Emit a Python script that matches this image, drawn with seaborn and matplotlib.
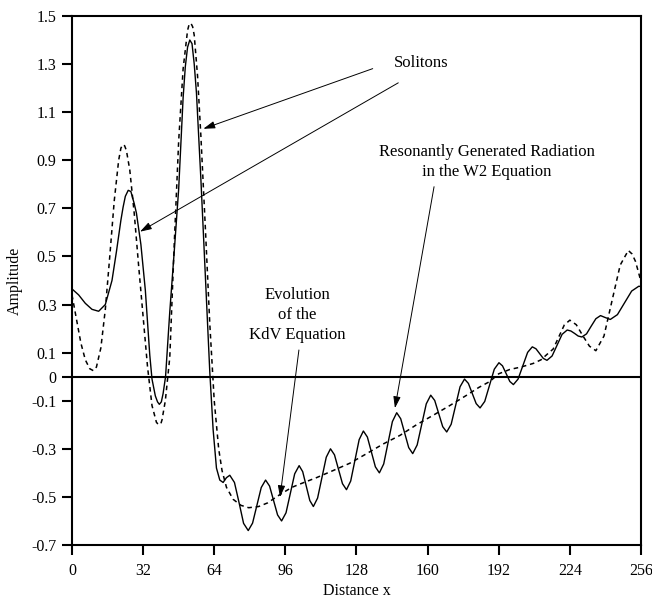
import numpy as np
import pandas as pd
import matplotlib
matplotlib.use("Agg")
import matplotlib.pyplot as plt
import seaborn as sns

sns.set_style("ticks")
plt.rcParams['font.family'] = ['Liberation Serif', 'DejaVu Serif']
plt.rcParams['text.color'] = 'black'
plt.rcParams['axes.labelcolor'] = 'black'
plt.rcParams['xtick.color'] = 'black'
plt.rcParams['ytick.color'] = 'black'

# ==========================================
# Data
# ==========================================
# W2 equation (solid line)
w2_x = [0, 3, 6, 9, 12, 15, 18, 20, 22, 23, 24, 25.3, 26.5, 28, 29, 31, 33, 35, 36, 37.5, 38.5,
        39.3, 40.2, 41, 42.1, 44, 46, 48, 50, 51, 52, 53, 54, 55, 56, 57, 58, 60, 62, 63.5,
        65, 66.5, 68, 69.5, 71,
        73.1, 75.2, 77.2, 79.3, 81.25, 83.2, 85.15, 87.1, 88.9, 90.7, 92.5, 94.3, 96.3, 98.25,
        100.2, 102.2, 103.8, 105.4, 107.0, 108.6, 110.5, 112.45, 114.4, 116.3, 118.1, 119.9,
        121.7, 123.5, 125.4, 127.3, 129.2, 131.1, 132.9, 134.7, 136.5, 138.3, 140.25, 142.2,
        144.15, 146.1, 147.9, 149.7, 151.5, 153.3, 155.3, 157.35, 159.4, 161.4, 163.2, 165.0,
        166.8, 168.6, 170.6, 172.6, 174.6, 176.6, 178.35, 180.1, 181.85, 183.6, 185.7, 187.85,
        190.0, 192.1, 193.7, 195.35, 197.0, 198.6, 200.7, 202.85, 205.0, 207.1, 208.75, 210.4,
        212.05, 213.7, 216.0, 218.25, 220.5, 222.8, 224.45, 226.1, 227.75, 229.4, 231.5, 233.6,
        235.7, 237.8, 239.9, 242.2, 245.4, 248.6, 251.8, 255, 256]
w2_y = [0.365, 0.34, 0.305, 0.28, 0.272, 0.30, 0.40, 0.52, 0.65, 0.705, 0.75, 0.775, 0.77, 0.72,
        0.68, 0.55, 0.36, 0.09, -0.01, -0.08, -0.105,
        -0.115, -0.105, -0.07, 0.0, 0.27, 0.52, 0.78, 1.16, 1.29, 1.37, 1.40, 1.385, 1.30, 1.18,
        1.0, 0.82, 0.42, 0.02, -0.22,
        -0.38, -0.43, -0.44, -0.42, -0.41,
        -0.44, -0.525, -0.61, -0.64, -0.609, -0.535, -0.461, -0.43, -0.455, -0.515, -0.575,
        -0.60, -0.566, -0.485,
        -0.404, -0.37, -0.395, -0.455, -0.515, -0.54, -0.505, -0.42, -0.335, -0.30, -0.325,
        -0.385,
        -0.445, -0.47, -0.434, -0.348, -0.262, -0.226, -0.251, -0.313, -0.375, -0.40, -0.363,
        -0.275,
        -0.187, -0.15, -0.175, -0.235, -0.295, -0.32, -0.284, -0.199, -0.113, -0.077, -0.099,
        -0.154,
        -0.208, -0.23, -0.198, -0.12, -0.042, -0.01, -0.028, -0.07, -0.112, -0.13, -0.103,
        -0.036,
        0.031, 0.058, 0.045, 0.013, -0.02, -0.033, -0.01, 0.046, 0.101, 0.124, 0.116, 0.096,
        0.076, 0.068, 0.086, 0.131, 0.176, 0.194, 0.19, 0.18, 0.169, 0.165, 0.178, 0.21,
        0.241, 0.254, 0.246, 0.238, 0.258, 0.307, 0.356, 0.376, 0.375]

# KdV equation (dashed line)
kdv_x = [0, 2, 4, 6, 8, 9.6, 11, 13, 15, 17, 19, 21, 22, 22.8, 23.7, 24.5, 26, 28, 30, 32, 34,
         36, 38, 38.5, 39.3, 40, 40.5, 42, 44, 46, 48, 50, 52, 52.7, 53.5, 54.3, 55, 56.5, 58,
         60, 62, 64, 66, 67.5, 69.5,
         72.5, 76, 79.5, 84, 88, 93.6, 99, 103, 110, 117.6, 125, 132.6, 140, 147.6, 155,
         162.6, 170, 177.6, 183, 188, 192, 197, 202, 207.5, 211, 214, 216.5, 219, 221.5, 224,
         226.9, 229.85, 232.8, 235.7, 239.35, 243.0, 246.65, 250.3, 252, 253.5, 255, 256]
kdv_y = [0.34, 0.24, 0.14, 0.07, 0.033, 0.025, 0.04, 0.12, 0.28, 0.50, 0.73, 0.90, 0.95, 0.965,
         0.96, 0.94, 0.86, 0.68, 0.46, 0.25, 0.04,
         -0.12, -0.19, -0.195, -0.20, -0.195, -0.18, -0.10, 0.08, 0.55, 0.98, 1.28, 1.44,
         1.465, 1.47, 1.455, 1.42, 1.25, 1.0,
         0.62, 0.22, -0.10, -0.30, -0.39, -0.46,
         -0.51, -0.535, -0.545, -0.54, -0.525, -0.49, -0.46, -0.445, -0.42, -0.39, -0.36,
         -0.32, -0.28, -0.244, -0.20,
         -0.16, -0.12, -0.077, -0.045, -0.02, 0.012, 0.03, 0.04, 0.055, 0.07, 0.095, 0.115,
         0.165, 0.215, 0.235,
         0.216, 0.17, 0.127, 0.108, 0.169, 0.317, 0.464, 0.525, 0.51, 0.48, 0.43, 0.395]

x_ticks = [0, 32, 64, 96, 128, 160, 192, 224, 256]
y_ticks = [-0.7, -0.5, -0.3, -0.1, 0, 0.1, 0.3, 0.5, 0.7, 0.9, 1.1, 1.3, 1.5]
y_tick_labels = ["-0.7", "-0.5", "-0.3", "-0.1", "0", "0.1", "0.3", "0.5", "0.7",
                 "0.9", "1.1", "1.3", "1.5"]

w2_df = pd.DataFrame({'x': w2_x, 'y': w2_y})
kdv_df = pd.DataFrame({'x': kdv_x, 'y': kdv_y})

# ==========================================
# Plot
# ==========================================
fig = plt.figure(figsize=(6.52, 6.03), dpi=100)
ax = fig.add_axes([0.1104, 0.0962, 0.8727, 0.8773])

sns.lineplot(data=kdv_df, x='x', y='y', ax=ax, color='black', linewidth=1.1,
             estimator=None, sort=False)
ax.lines[-1].set_dashes((3, 2.5))
sns.lineplot(data=w2_df, x='x', y='y', ax=ax, color='black', linewidth=1.0,
             estimator=None, sort=False)

ax.axhline(0, color='black', linewidth=1.5)

ax.set_xlim(0, 256)
ax.set_ylim(-0.7, 1.5)
ax.set_xticks(x_ticks)
ax.set_xticklabels([str(t) for t in x_ticks])
ax.set_yticks(y_ticks)
ax.set_yticklabels(y_tick_labels)
ax.tick_params(axis='both', direction='out', length=7, width=1.5, labelsize=11.5,
               color='black', labelcolor='black')
ax.tick_params(axis='y', pad=4)
ax.tick_params(axis='x', pad=6)
for s in ax.spines.values():
    s.set_visible(True)
    s.set_linewidth(1.5)
    s.set_color('black')

ax.set_xlabel('Distance x', fontsize=11.5, labelpad=3)
ax.set_ylabel('Amplitude', fontsize=11.5, labelpad=6)

# --- annotations ---
arrow_kw = dict(arrowstyle='-|>,head_length=0.7,head_width=0.22', color='black',
                linewidth=0.7, shrinkA=0, shrinkB=0)
ax.text(157, 1.306, 'Solitons', ha='center', va='center', fontsize=12)
ax.annotate('', xy=(59.1, 1.031), xytext=(135.3, 1.281), arrowprops=arrow_kw)
ax.annotate('', xy=(30.6, 0.603), xytext=(146.8, 1.222), arrowprops=arrow_kw)

ax.text(101.2, 0.257, 'Evolution\nof the\nKdV Equation', ha='center', va='center',
        fontsize=12, linespacing=1.35)
ax.annotate('', xy=(93.6, -0.501), xytext=(102.1, 0.111), arrowprops=arrow_kw)

ax.text(186.7, 0.8925, 'Resonantly Generated Radiation\nin the W2 Equation', ha='center',
        va='center', fontsize=12, linespacing=1.3)
ax.annotate('', xy=(145.3, -0.131), xytext=(162.9, 0.79), arrowprops=arrow_kw)

fig.savefig('out.png', dpi=100)
